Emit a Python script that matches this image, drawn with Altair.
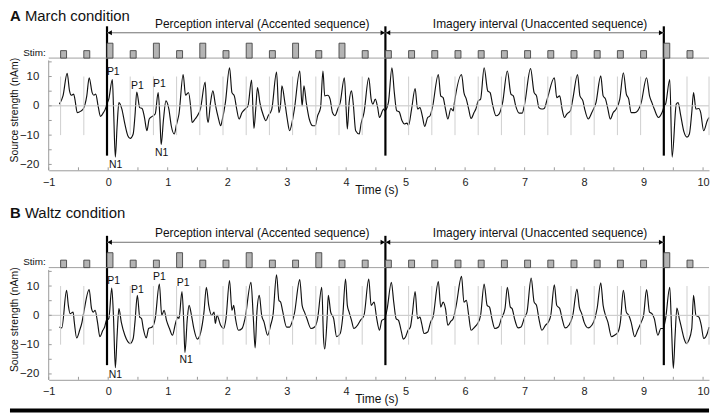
import altair as alt
import pandas as pd

FONT = "Liberation Sans"

# ---------------- data ----------------
TIME_A = [-0.82, -0.76, -0.69, -0.65, -0.62, -0.58, -0.56, -0.52, -0.46, -0.42, -0.36, -0.32, -0.27, -0.24, -0.21, -0.17, -0.13, -0.08, -0.04, -0.03,
          0.01, 0.07, 0.09, 0.12, 0.15, 0.18, 0.23, 0.28, 0.33, 0.37, 0.42, 0.45, 0.48, 0.53, 0.57, 0.61, 0.65, 0.69, 0.74, 0.79,
          0.84, 0.87, 0.89, 0.93, 0.97, 1.02, 1.06, 1.11, 1.15, 1.19, 1.26, 1.30, 1.35, 1.39, 1.41, 1.46, 1.50, 1.55, 1.63, 1.66,
          1.68, 1.72, 1.76, 1.80, 1.85, 1.89, 1.92, 1.97, 2.04, 2.08, 2.12, 2.16, 2.20, 2.25, 2.30, 2.35, 2.41, 2.45, 2.48, 2.51,
          2.55, 2.61, 2.65, 2.69, 2.75, 2.83, 2.87, 2.90, 2.92, 2.97, 3.01, 3.05, 3.09, 3.13, 3.22, 3.26, 3.29, 3.33, 3.38, 3.44,
          3.48, 3.52, 3.57, 3.61, 3.64, 3.69, 3.73, 3.77, 3.81, 3.86, 3.90, 3.97, 4.00, 4.02, 4.05, 4.09, 4.12, 4.16, 4.22, 4.25,
          4.30, 4.38, 4.42, 4.45, 4.49, 4.53, 4.56, 4.63, 4.65, 4.71, 4.77, 4.81, 4.85, 4.89, 4.94, 4.98, 5.02, 5.05, 5.10, 5.16,
          5.20, 5.24, 5.28, 5.32, 5.37, 5.41, 5.45, 5.55, 5.59, 5.63, 5.67, 5.71, 5.76, 5.80, 5.82, 5.94, 5.98, 6.02, 6.06, 6.10,
          6.15, 6.18, 6.22, 6.26, 6.32, 6.38, 6.42, 6.46, 6.52, 6.57, 6.63, 6.71, 6.77, 6.81, 6.85, 6.91, 6.96, 7.00, 7.10, 7.16,
          7.20, 7.24, 7.29, 7.33, 7.38, 7.50, 7.54, 7.59, 7.63, 7.67, 7.71, 7.77, 7.81, 7.89, 7.93, 7.98, 8.01, 8.07, 8.13, 8.20,
          8.28, 8.32, 8.36, 8.40, 8.44, 8.49, 8.54, 8.60, 8.66, 8.71, 8.75, 8.79, 8.85, 8.90, 8.96, 9.05, 9.10, 9.14, 9.18, 9.25,
          9.31, 9.35, 9.37, 9.44, 9.48, 9.55, 9.58, 9.62, 9.68, 9.73, 9.77, 9.81, 9.84, 9.88, 9.93, 9.96, 10.01, 10.07, 10.10]
SRC_A = [0.6, 3.4, 11.1, 5.1, 3.6, 4.0, 2.3, -2.3, -1.8, -1.1, 3.4, 9.6, 4.5, 3.6, 4.0, 0.0, -3.6, -2.3, -0.6, 0.2,
         2.3, 9.0, -1.1, -17.5, -6.8, 1.1, -1.1, -6.2, -10.2, -11.1, -9.6, -3.4, 4.7, -0.6, -0.9, -4.0, -8.5, -4.5, -3.6, -2.8,
         4.5, -4.5, -13.3, -4.5, 1.7, -1.1, -6.8, -9.6, -6.2, -2.8, 10.7, 3.6, 4.5, -1.1, -5.7, -4.5, -3.4, -1.1, 8.1, -3.4,
         -5.7, 1.1, 5.1, 0.6, -4.0, -6.8, -4.5, 1.1, 13.0, 4.5, 3.4, -1.1, -4.5, -2.3, -1.1, 0.0, 8.8, -7.7, -1.1, 6.2,
         1.1, -3.4, -5.1, -3.4, -1.1, 11.5, -2.3, 1.1, 6.8, 1.1, -4.5, -8.5, -5.7, -1.1, 11.9, 0.0, 6.8, 1.1, -4.5, -6.8,
         -6.8, -3.4, -0.6, 11.9, 3.4, 3.6, 2.3, -2.3, -3.4, -1.1, 1.1, 9.6, -1.1, -7.9, 1.1, 5.1, 0.6, -8.5, -9.6, -6.2,
         -2.3, 9.6, 2.3, 0.6, 2.3, -0.6, -4.0, -1.1, -1.7, 1.1, 13.0, 4.5, -1.7, -2.0, -5.1, -6.2, -5.9, -6.6, -1.1, 5.9,
         -1.1, -0.6, -3.4, -7.0, -4.0, -3.4, -0.6, 10.7, 3.4, 2.8, -1.1, -4.5, -0.9, -1.7, 1.1, 10.7, 4.5, 2.3, -1.1, -4.3,
         -2.3, -1.1, 1.7, 2.3, 13.0, 5.1, 4.5, 0.6, -3.4, -2.8, 1.1, 11.9, 4.0, 3.4, 0.0, -2.5, -2.5, 0.6, 12.7, 4.5,
         3.4, -0.6, -1.1, -0.9, 2.3, 9.6, 2.8, 3.4, -1.1, -4.0, -2.8, -1.7, 2.3, 10.7, 3.4, 1.7, -1.1, -4.5, -2.3, 1.1,
         10.2, 3.4, 2.3, -1.1, -4.5, -2.3, -1.1, 2.3, 11.3, 4.0, 2.3, -2.3, -2.3, -1.7, 1.1, 9.6, 3.4, 1.1, -1.1, -4.0,
         -2.3, 0.0, 0.6, 9.0, -17.5, 0.6, 1.1, -2.8, -9.0, -10.7, -9.6, -2.3, 4.5, -1.1, -0.9, -2.3, -8.5, -5.1, -4.0]

TIME_B = [-0.82, -0.78, -0.70, -0.67, -0.64, -0.59, -0.57, -0.53, -0.48, -0.44, -0.41, -0.32, -0.28, -0.25, -0.22, -0.18, -0.14, -0.09, -0.06, -0.03,
          0.01, 0.06, 0.09, 0.12, 0.15, 0.18, 0.22, 0.28, 0.33, 0.37, 0.42, 0.45, 0.49, 0.53, 0.56, 0.59, 0.64, 0.68, 0.74, 0.79,
          0.86, 0.90, 0.94, 0.98, 1.03, 1.08, 1.13, 1.17, 1.19, 1.24, 1.27, 1.29, 1.33, 1.36, 1.40, 1.44, 1.50, 1.55, 1.61, 1.65,
          1.69, 1.74, 1.78, 1.80, 1.83, 1.89, 1.94, 1.98, 2.04, 2.08, 2.11, 2.14, 2.19, 2.25, 2.30, 2.40, 2.44, 2.47, 2.50, 2.54,
          2.58, 2.62, 2.68, 2.73, 2.77, 2.83, 2.87, 2.90, 2.93, 3.00, 3.05, 3.09, 3.13, 3.22, 3.26, 3.30, 3.34, 3.41, 3.47, 3.52,
          3.59, 3.62, 3.64, 3.68, 3.70, 3.74, 3.79, 3.84, 3.90, 3.94, 3.99, 4.02, 4.05, 4.09, 4.13, 4.19, 4.24, 4.30, 4.38, 4.42,
          4.47, 4.51, 4.56, 4.60, 4.65, 4.69, 4.76, 4.80, 4.84, 4.88, 4.93, 4.96, 5.00, 5.04, 5.08, 5.11, 5.16, 5.20, 5.24, 5.27,
          5.31, 5.37, 5.42, 5.46, 5.55, 5.59, 5.63, 5.67, 5.71, 5.76, 5.80, 5.85, 5.94, 5.98, 6.02, 6.06, 6.10, 6.16, 6.21, 6.26,
          6.32, 6.37, 6.41, 6.45, 6.50, 6.56, 6.61, 6.67, 6.71, 6.76, 6.79, 6.83, 6.89, 6.94, 7.00, 7.04, 7.11, 7.16, 7.20, 7.24,
          7.29, 7.35, 7.40, 7.44, 7.50, 7.54, 7.59, 7.63, 7.68, 7.75, 7.81, 7.88, 7.92, 7.96, 8.00, 8.07, 8.13, 8.18, 8.22, 8.28,
          8.32, 8.36, 8.40, 8.46, 8.51, 8.57, 8.61, 8.66, 8.71, 8.75, 8.79, 8.85, 8.90, 8.96, 9.00, 9.05, 9.10, 9.14, 9.18, 9.24,
          9.29, 9.33, 9.37, 9.44, 9.47, 9.50, 9.53, 9.56, 9.60, 9.64, 9.68, 9.72, 9.76, 9.81, 9.84, 9.88, 9.93, 9.97, 10.01, 10.07, 10.10]
SRC_B = [-4.0, -4.3, 8.5, 3.4, 0.6, 1.1, -2.3, -7.7, -5.1, -2.3, 1.1, 8.8, 2.3, 1.1, 1.7, -2.3, -7.3, -5.1, -4.0, -1.7,
         -1.1, 9.3, -1.1, -17.9, -6.8, 2.3, -2.3, -6.8, -9.0, -9.6, -7.9, -2.3, 6.8, -0.6, -1.1, -4.5, -7.7, -4.5, -4.0, -1.1,
         10.7, 0.0, 1.7, -1.7, -4.5, -6.8, -2.8, -0.6, -1.1, 8.1, -2.3, -12.7, -1.1, 3.4, 0.0, -4.5, -8.1, -6.2, 1.1, 9.6,
         3.4, 0.0, 1.1, -2.8, 0.0, -3.4, -4.5, -1.1, 11.9, 1.7, 3.4, -1.1, -5.1, -4.5, -1.1, 11.3, -1.1, -11.1, 1.1, 6.8,
         0.0, -2.3, -6.8, -3.4, 0.0, 13.8, 5.1, 4.5, 1.7, -4.0, -4.0, -2.3, 0.6, 12.2, 3.4, 1.1, -1.1, -4.5, -4.0, -1.1,
         9.6, -7.9, -11.5, -1.1, 6.8, 1.1, -1.1, -7.3, -6.2, -1.1, 12.4, 3.4, 1.1, -1.7, -4.5, -3.4, -1.7, 0.0, 12.4, 3.4,
         4.5, -0.6, -5.1, -1.7, -1.1, 2.3, 11.3, 4.5, -1.1, -1.7, -5.7, -8.1, -7.3, -5.1, -4.0, 0.0, 8.1, -1.1, -0.6, -2.8,
         -6.2, -5.7, -2.3, -0.6, 11.5, 2.8, 4.5, 2.3, -3.4, -2.0, -1.1, 3.4, 13.3, 4.5, 5.1, 0.0, -5.1, -4.0, -2.8, 0.0,
         10.7, 3.4, 2.8, -1.1, -4.5, -4.0, -1.1, 2.3, 9.6, 2.8, 2.3, -1.1, -4.3, -4.0, -0.6, 1.1, 12.7, 4.5, 3.4, -1.1,
         -5.1, -3.4, -2.3, 0.0, 10.4, 3.4, 2.3, -1.1, -4.3, -3.2, 0.0, 9.0, 2.8, 0.6, -2.3, -4.3, -3.4, -1.1, 2.5, 11.1,
         3.4, 0.0, -2.3, -7.3, -6.8, -5.7, -2.3, 8.5, 1.1, 0.0, -2.3, -7.3, -5.1, -2.3, 0.0, 8.8, 1.1, 0.6, -1.1, -6.8,
         -4.5, -4.5, -1.1, 9.6, -4.5, -18.1, -6.8, 2.5, -1.1, -4.5, -7.9, -9.6, -8.5, -4.5, 6.8, 0.0, -0.6, -3.4, -7.9, -6.2, -4.0]

STIM_ONSETS = [-0.80, -0.41, -0.02, 0.37, 0.76, 1.15, 1.54, 1.93, 2.32, 2.71, 3.10, 3.49, 3.88, 4.27,
               4.66, 5.05, 5.44, 5.83, 6.22, 6.61, 7.00, 7.39, 7.78, 8.17, 8.56, 8.95, 9.34, 9.73]
ONSET_LINES = STIM_ONSETS + [10.10]
ACCENTED_A = [-0.02, 0.76, 1.54, 2.32, 3.10, 3.88, 9.34]
ACCENTED_B = [-0.02, 1.15, 2.32, 3.49, 9.34]
STIM_DURATION = 0.10

BOUNDARIES = [-0.02, 4.66, 9.34]
INTERVAL_START = [-0.02, 4.66]
INTERVAL_END = [4.66, 9.34]
INTERVAL_TEXT = ["Perception interval (Accented sequence)", "Imagery interval (Unaccented sequence)"]
INTERVAL_TEXT_X = [2.59, 7.26]
HEAD_LEFT_X = [0.025, 4.705]
HEAD_RIGHT_X = [4.615, 9.295]

PEAKS_A = {"lab": ["P1", "P1", "P1", "N1", "N1"],
           "t": [0.085, 0.49, 0.86, 0.125, 0.90],
           "v": [11.7, 6.9, 7.3, -20.2, -16.1]}
PEAKS_B = {"lab": ["P1", "P1", "P1", "P1", "N1", "N1"],
           "t": [0.09, 0.49, 0.86, 1.26, 0.12, 1.31],
           "v": [11.7, 8.8, 13.0, 11.1, -20.3, -15.3]}

X_LABELS = [-1, 0, 1, 2, 3, 4, 5, 6, 7, 8, 9, 10]
X_MINOR = [-1, -0.5, 0, 0.5, 1, 1.5, 2, 2.5, 3, 3.5, 4, 4.5, 5, 5.5, 6, 6.5, 7, 7.5, 8, 8.5, 9, 9.5, 10]
Y_LABELS = [-20, -10, 0, 10]
Y_MINOR = [-20, -15, -10, -5, 0, 5, 10, 15]
Y_AXIS_TOP = 15.5

X_DOMAIN = [-1, 10.1]
Y_DOMAIN = [-22, 32.9]
W, H = 665, 162
LEFT = 39  # room left of the plot, in pixels

XS = alt.Scale(domain=X_DOMAIN, nice=False, zero=False)
YS = alt.Scale(domain=Y_DOMAIN, nice=False, zero=False)

X_AXIS = alt.Axis(values=X_LABELS, format="d", ticks=False, grid=False, domainColor="#9a9a9a",
                  labelPadding=6, labelFontSize=11, labelColor="#222222", labelFlush=False,
                  titleX=330, titleY=14, titleBaseline="top", titleFontSize=12,
                  titleFontWeight="normal", titleColor="#111111")
Y_AXIS = alt.Axis(values=Y_LABELS, ticks=False, domain=False, grid=False, labelPadding=10,
                  labelFontSize=11.5, labelColor="#222222", labelFlush=False,
                  titleX=-29, titleY=101, titleFontSize=10.5, titleFontWeight="normal",
                  titleColor="#111111")


def one():
    return pd.DataFrame({"a": [0]})


def X(f="t"):
    return alt.X(f + ":Q", scale=XS, title="Time (s)", axis=X_AXIS)


def Y(f="v"):
    return alt.Y(f + ":Q", scale=YS, title="Source strength (nAm)", axis=Y_AXIS)


def panel(letter, name, times, values, accented, peaks, title_y):
    wave = pd.DataFrame({"t": times, "v": values})
    lines = pd.DataFrame({"t": ONSET_LINES, "v": -10, "v2": 10})
    stim = pd.DataFrame({"t": STIM_ONSETS})
    stim["t2"] = stim["t"] + STIM_DURATION
    stim["tall"] = stim["t"].isin(accented)
    tall = stim[stim["tall"]]
    small = stim[~stim["tall"]]
    bnd = pd.DataFrame({"t": BOUNDARIES, "v": -17.0})
    arrows = pd.DataFrame({"t": INTERVAL_START, "t2": INTERVAL_END})
    labels = pd.DataFrame({"t": INTERVAL_TEXT_X, "txt": INTERVAL_TEXT})
    hl = pd.DataFrame({"t": HEAD_LEFT_X})
    hr = pd.DataFrame({"t": HEAD_RIGHT_X})
    span = pd.DataFrame({"t": [X_DOMAIN[0]], "t2": [X_DOMAIN[1]], "v": [0]})
    yax = pd.DataFrame({"t": [X_DOMAIN[0]], "v": [Y_DOMAIN[0]], "v2": [Y_AXIS_TOP]})
    pk = pd.DataFrame(peaks)
    xm = pd.DataFrame({"t": X_MINOR})
    ym = pd.DataFrame({"v": Y_MINOR})

    line = alt.Chart(wave).mark_line(color="#111111", strokeWidth=1.15, interpolate="monotone").encode(
        x=X(), y=Y())
    zero = alt.Chart(span).mark_rule(color="#c4c4c4", strokeWidth=1).encode(x=X(), x2="t2:Q", y=Y())
    onl = alt.Chart(lines).mark_rule(color="#cfcfcf", strokeWidth=1).encode(x=X(), y=Y(), y2="v2:Q")
    bl = alt.Chart(bnd).mark_rule(color="black", strokeWidth=2.2).encode(x=X(), y=Y(), y2=alt.value(17))
    yline = alt.Chart(yax).mark_rule(color="#9a9a9a", strokeWidth=1).encode(x=X(), y=Y(), y2="v2:Q")
    yt = alt.Chart(ym).mark_rule(color="#9a9a9a").encode(x=alt.value(0), x2=alt.value(3), y=Y())
    xt = alt.Chart(xm).mark_rule(color="#9a9a9a").encode(x=X(), y=alt.value(H), y2=alt.value(H - 3))
    base = alt.Chart(span).mark_rule(color="#a0a0a0", strokeWidth=1).encode(x=X(), x2="t2:Q", y=alt.value(49))
    sq = alt.Chart(small).mark_rect(fill="#b4b4b4", stroke="#454545", strokeWidth=0.9).encode(
        x=X(), x2="t2:Q", y=alt.value(41.5), y2=alt.value(49))
    tb = alt.Chart(tall).mark_rect(fill="#b4b4b4", stroke="#454545", strokeWidth=0.9).encode(
        x=X(), x2="t2:Q", y=alt.value(34), y2=alt.value(49))
    arr = alt.Chart(arrows).mark_rule(color="#707070", strokeWidth=1).encode(x=X(), x2="t2:Q", y=alt.value(23.5))
    hls = alt.Chart(hl).mark_point(shape="triangle-left", filled=True, size=26, color="black", opacity=1).encode(
        x=X(), y=alt.value(23.5))
    hrs = alt.Chart(hr).mark_point(shape="triangle-right", filled=True, size=26, color="black", opacity=1).encode(
        x=X(), y=alt.value(23.5))
    itxt = alt.Chart(labels).mark_text(fontSize=12, color="#111111", baseline="middle", align="center").encode(
        x=X(), y=alt.value(14.5), text="txt:N")
    stl = alt.Chart(one()).mark_text(text="Stim:", fontSize=10, align="right", baseline="middle",
                                     color="#111111").encode(x=alt.value(-3), y=alt.value(43.5))
    t1 = alt.Chart(one()).mark_text(text=letter, fontSize=15, fontWeight="bold", align="left",
                                    baseline="top", color="#111111").encode(x=alt.value(-LEFT), y=alt.value(title_y))
    t2 = alt.Chart(one()).mark_text(text=name, fontSize=15, align="left", baseline="top",
                                    color="#111111").encode(x=alt.value(-LEFT + 15), y=alt.value(title_y))
    pks = alt.Chart(pk).mark_text(fontSize=10.5, color="#111111", baseline="middle", align="center").encode(
        x=X(), y=Y(), text="lab:N")

    layers = [line, zero, onl, bl, yline, yt, xt, base, sq, tb, arr, hls, hrs, itxt, stl, t1, t2, pks]
    return layers


pa = alt.layer(*panel("A", "March condition", TIME_A, SRC_A, ACCENTED_A, PEAKS_A, 0)).properties(width=W, height=H)
sep = alt.Chart(one()).mark_rule(color="black", strokeWidth=4).encode(
    x=alt.value(-LEFT), x2=alt.value(W), y=alt.value(193))
pb = alt.layer(*panel("B", "Waltz condition", TIME_B, SRC_B, ACCENTED_B, PEAKS_B, -13), sep).properties(width=W, height=H)

chart = alt.vconcat(pa, pb, spacing=11).properties(padding=0, background="white").configure(
    font=FONT).configure_view(stroke=None)

chart.save("out.html", embed_options={"renderer": "svg", "actions": False})
